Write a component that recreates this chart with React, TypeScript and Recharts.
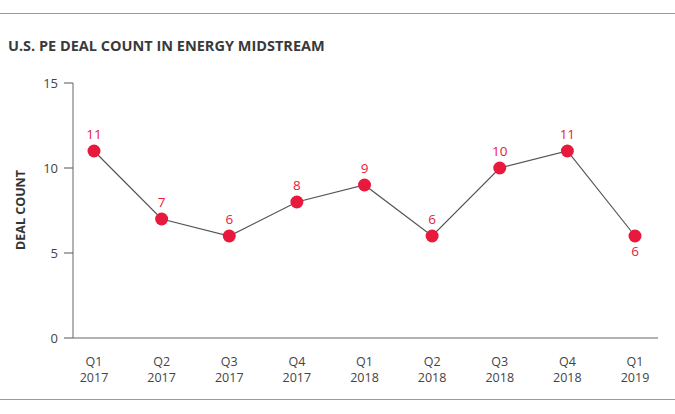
import React from 'react';
import { LineChart, Line, XAxis, YAxis, LabelList } from 'recharts';

const quarters = ['Q1', 'Q2', 'Q3', 'Q4', 'Q1', 'Q2', 'Q3', 'Q4', 'Q1'];
const years = ['2017', '2017', '2017', '2017', '2018', '2018', '2018', '2018', '2019'];
const dealCounts = [11, 7, 6, 8, 9, 6, 10, 11, 6];
const yTicks = [0, 5, 10, 15];

const data = quarters.map((q, i) => ({ q, y: years[i], label: `${q}\n${years[i]}`, v: dealCounts[i] }));

const RED = '#e8193c';
const FONT = '"Open Sans", "Noto Sans", sans-serif';

const XTick = (props: any) => {
  const { x, y, payload } = props;
  const [a, b] = String(payload.value).split('\n');
  return (
    <text x={x} y={y} textAnchor="middle" fontSize={12.5} fill="#444" fontFamily={FONT}>
      <tspan x={x} dy={20}>{a}</tspan>
      <tspan x={x} dy={16}>{b}</tspan>
    </text>
  );
};

const ValueLabel = (props: any) => {
  const { x, y, value, index } = props;
  const below = index === dealCounts.length - 1;
  return (
    <text x={x} y={below ? y + 20 : y - 12} textAnchor="middle" fontSize={13.5} fill={RED} fontFamily={FONT}>
      {value}
    </text>
  );
};

export default function App() {
  return (
    <div style={{ position: 'absolute', left: 0, top: 0, width: 675, height: 414, background: '#fff' }}>
      <svg width={675} height={414} style={{ position: 'absolute', left: 0, top: 0 }}>
        <line x1={0} x2={675} y1={13.5} y2={13.5} stroke="#9a9a9a" strokeWidth={1} />
        <line x1={0} x2={675} y1={399.5} y2={399.5} stroke="#9a9a9a" strokeWidth={1} />
        <text x={8} y={51} fontSize={14.5} fontWeight={700} fill="#3a3a3a" fontFamily={FONT}>
          U.S. PE DEAL COUNT IN ENERGY MIDSTREAM
        </text>
        <text
          x={25}
          y={210}
          transform="rotate(-90 25 210)"
          textAnchor="middle"
          fontSize={12.5}
          fontWeight={700}
          fill="#333"
          fontFamily={FONT}
        >
          DEAL COUNT
        </text>
      </svg>
      <div style={{ position: 'absolute', left: 0, top: 0 }}>
        <LineChart width={675} height={414} data={data} margin={{ top: 83, right: 17, bottom: 0, left: 0 }}>
          <XAxis
            dataKey="label"
            height={76}
            padding={{ left: 21, right: 23 }}
            tickLine={false}
            axisLine={{ stroke: '#666', strokeWidth: 1 }}
            tick={<XTick />}
            interval={0}
          />
          <YAxis
            width={73}
            domain={[0, 15]}
            ticks={yTicks}
            tickSize={9}
            tickMargin={6}
            tickLine={{ stroke: '#555' }}
            axisLine={{ stroke: '#666', strokeWidth: 1 }}
            tick={{ fontSize: 13, fill: '#444', fontFamily: FONT }}
          />
          <Line
            dataKey="v"
            stroke="#555"
            strokeWidth={1.2}
            isAnimationActive={false}
            dot={{ r: 6.5, fill: RED, stroke: RED, strokeWidth: 0 }}
            activeDot={false}
          >
            <LabelList dataKey="v" content={<ValueLabel />} />
          </Line>
        </LineChart>
      </div>
    </div>
  );
}
